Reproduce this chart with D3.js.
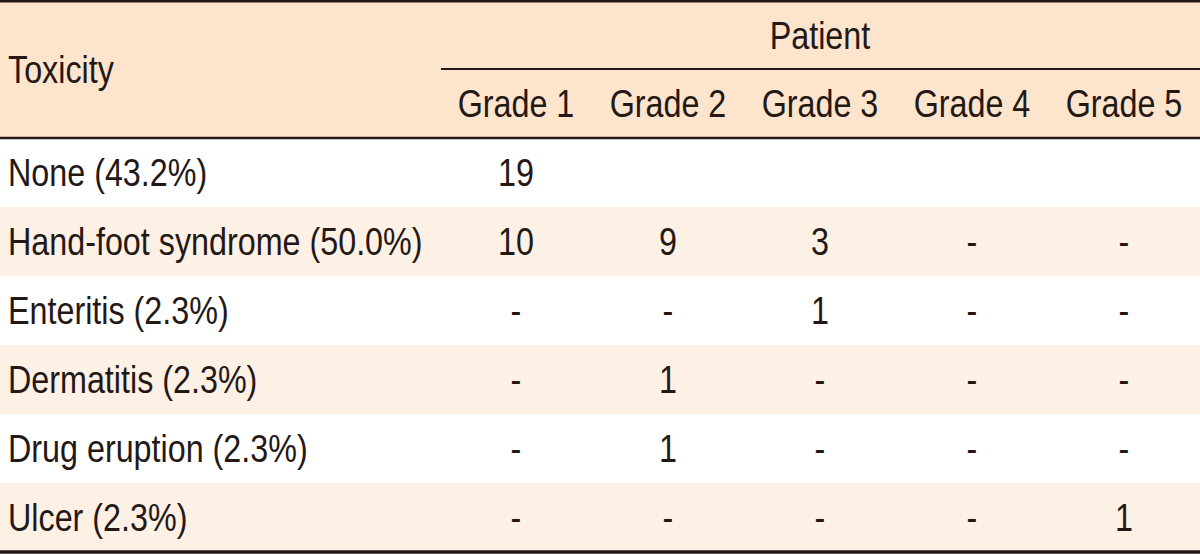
<!DOCTYPE html>
<html>
<head>
<meta charset="utf-8">
<script src="https://cdn.jsdelivr.net/npm/d3@7"></script>
<style>
  body { margin: 0; background: #fff; }
  svg text { font-family: "Liberation Sans", Arial, sans-serif; fill: #231815; }
</style>
</head>
<body>
<div id="chart"></div>
<script>
var toxicities = ["None", "Hand-foot syndrome", "Enteritis", "Dermatitis", "Drug eruption", "Ulcer"];
var percents = ["43.2%", "50.0%", "2.3%", "2.3%", "2.3%", "2.3%"];
var grades = ["Grade 1", "Grade 2", "Grade 3", "Grade 4", "Grade 5"];
// counts per grade, "-" = none, "" = blank cell
var counts = [
  ["19", "", "", "", ""],
  ["10", "9", "3", "-", "-"],
  ["-", "-", "1", "-", "-"],
  ["-", "1", "-", "-", "-"],
  ["-", "1", "-", "-", "-"],
  ["-", "-", "-", "-", "1"]
];

var width = 1200,
  height = 554;
var squeeze = 0.85; // fake a condensed face

var svg = d3.select("#chart")
  .append("svg")
  .attr("width", width)
  .attr("height", height);

var headTop = 1, headMid = 69, headBot = 138, bodyBot = 552;

var x = d3.scaleBand()
  .domain(grades)
  .range([440, 1200]);

var y = d3.scaleBand()
  .domain(toxicities)
  .range([headBot, bodyBot]);

function place(px, py) {
  return "translate(" + px + "," + py + ") scale(" + squeeze + ",1)";
}

// header background
svg.append("rect")
  .attr("x", 0).attr("y", headTop)
  .attr("width", width).attr("height", headBot - headTop)
  .attr("fill", "#fde5cd");

// body row stripes
svg.selectAll("rect.row")
  .data(toxicities)
  .enter()
  .append("rect")
  .attr("class", "row")
  .attr("x", 0)
  .attr("y", function(d) { return y(d); })
  .attr("width", width)
  .attr("height", y.bandwidth())
  .attr("fill", function(d, i) { return i % 2 === 1 ? "#fdf0e4" : "#ffffff"; });

// header texts
svg.append("text")
  .text("Toxicity")
  .attr("transform", place(8, (headTop + headBot) / 2))
  .attr("dy", "0.36em")
  .attr("font-size", "38px");

svg.append("text")
  .text("Patient")
  .attr("transform", place(820, (headTop + headMid) / 2))
  .attr("dy", "0.36em")
  .attr("text-anchor", "middle")
  .attr("font-size", "38px");

svg.selectAll("text.grade")
  .data(grades)
  .enter()
  .append("text")
  .attr("class", "grade")
  .text(function(d) { return d; })
  .attr("transform", function(d) { return place(x(d) + x.bandwidth() / 2, (headMid + headBot) / 2); })
  .attr("dy", "0.36em")
  .attr("text-anchor", "middle")
  .attr("font-size", "38px");

// row labels
svg.selectAll("text.label")
  .data(toxicities)
  .enter()
  .append("text")
  .attr("class", "label")
  .text(function(d, i) { return d + " (" + percents[i] + ")"; })
  .attr("transform", function(d) { return place(8, y(d) + y.bandwidth() / 2); })
  .attr("dy", "0.36em")
  .attr("font-size", "38px");

// cells
var rows = svg.selectAll("g.cells")
  .data(counts)
  .enter()
  .append("g")
  .attr("class", "cells")
  .attr("transform", function(d, i) { return "translate(0," + (y(toxicities[i]) + y.bandwidth() / 2) + ")"; });

rows.selectAll("text")
  .data(function(d) { return d; })
  .enter()
  .append("text")
  .text(function(d) { return d; })
  .attr("transform", function(d, j) { return place(x(grades[j]) + x.bandwidth() / 2, 0); })
  .attr("dy", "0.36em")
  .attr("text-anchor", "middle")
  .attr("font-size", "38px");

// rules
addline(0, width, headTop, 3, svg);
addline(441, width, headMid, 2, svg);
addline(0, width, headBot, 2.5, svg);
addline(0, width, bodyBot, 3.5, svg);

function addline(x1, x2, yy, w, obj) {
  obj.append("line")
    .attr("x1", x1).attr("x2", x2)
    .attr("y1", yy).attr("y2", yy)
    .attr("stroke", "#231815")
    .attr("stroke-width", w);
}
</script>
</body>
</html>
